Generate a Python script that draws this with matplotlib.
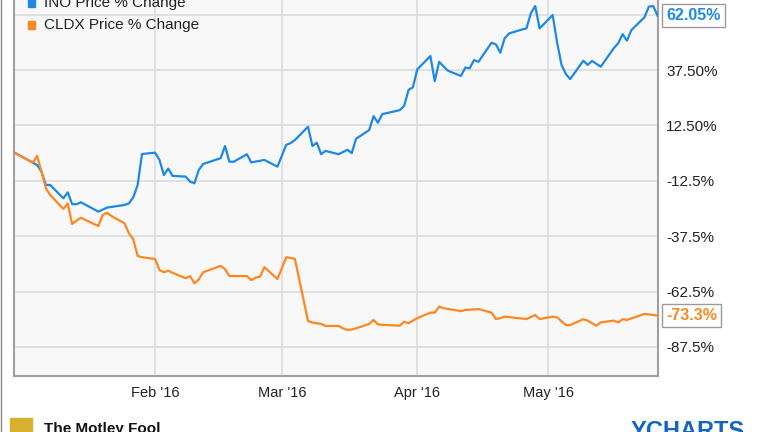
import pandas as pd
import numpy as np
import matplotlib
matplotlib.use("Agg")
import matplotlib.pyplot as plt
import matplotlib.dates as mdates
from matplotlib.lines import Line2D

plt.rcParams['font.family'] = ['Liberation Sans', 'DejaVu Sans']

# INO price % change, vertices
ino_dates = ['2015-12-31', '2016-01-05', '2016-01-06', '2016-01-07', '2016-01-08',
             '2016-01-11', '2016-01-12', '2016-01-13', '2016-01-14', '2016-01-15',
             '2016-01-19', '2016-01-21', '2016-01-25', '2016-01-26', '2016-01-27',
             '2016-01-28', '2016-01-29', '2016-02-01', '2016-02-02', '2016-02-03',
             '2016-02-04', '2016-02-05', '2016-02-08', '2016-02-09', '2016-02-10',
             '2016-02-11', '2016-02-12', '2016-02-16', '2016-02-17', '2016-02-18',
             '2016-02-19', '2016-02-22', '2016-02-23', '2016-02-26', '2016-02-29',
             '2016-03-02', '2016-03-03', '2016-03-04', '2016-03-07', '2016-03-08',
             '2016-03-09', '2016-03-10', '2016-03-11', '2016-03-14', '2016-03-15',
             '2016-03-16', '2016-03-17', '2016-03-18', '2016-03-21', '2016-03-22',
             '2016-03-23', '2016-03-24', '2016-03-28', '2016-03-29', '2016-03-30',
             '2016-03-31', '2016-04-01', '2016-04-04', '2016-04-05', '2016-04-06',
             '2016-04-08', '2016-04-11', '2016-04-12', '2016-04-13', '2016-04-14',
             '2016-04-15', '2016-04-18', '2016-04-19', '2016-04-20', '2016-04-21',
             '2016-04-22', '2016-04-25', '2016-04-26', '2016-04-27', '2016-04-28',
             '2016-04-29', '2016-05-02', '2016-05-03', '2016-05-04', '2016-05-05',
             '2016-05-06', '2016-05-09', '2016-05-10', '2016-05-11', '2016-05-13',
             '2016-05-16', '2016-05-17', '2016-05-18', '2016-05-19', '2016-05-20',
             '2016-05-23', '2016-05-24', '2016-05-25', '2016-05-26']
ino_pct = [0.0, -5.4, -8.4, -14.4, -14.4,
           -20.4, -17.7, -23.0, -23.1, -22.2,
           -26.4, -24.6, -23.4, -22.7, -20.0,
           -14.4, -0.4, 0.2, -3.1, -9.9,
           -7.0, -10.3, -10.6, -12.9, -13.6,
           -7.6, -4.9, -2.3, 3.2, -3.9,
           -3.9, -0.5, -4.2, -3.1, -6.1,
           3.7, 4.5, 5.9, 11.9, 3.2,
           4.7, -0.5, 1.0, -0.5, 0.5,
           1.5, 0.0, 6.5, 10.4, 16.7,
           13.7, 17.6, 19.4, 21.3, 28.5,
           29.7, 37.8, 43.8, 32.5, 41.2,
           37.2, 34.8, 38.6, 38.3, 42.0,
           41.2, 49.8, 49.1, 45.3, 51.8,
           54.0, 55.8, 56.3, 63.1, 66.4,
           56.3, 62.3, 50.0, 39.9, 35.7,
           33.4, 41.7, 39.8, 41.6, 39.0,
           47.4, 49.6, 53.7, 50.7, 55.5,
           61.3, 66.1, 66.4, 62.05]

# CLDX price % change
cldx_dates = ['2015-12-31', '2016-01-04', '2016-01-05', '2016-01-06', '2016-01-07',
              '2016-01-08', '2016-01-11', '2016-01-12', '2016-01-13', '2016-01-14',
              '2016-01-15', '2016-01-19', '2016-01-20', '2016-01-21', '2016-01-22',
              '2016-01-25', '2016-01-26', '2016-01-27', '2016-01-28', '2016-01-29',
              '2016-02-01', '2016-02-02', '2016-02-03', '2016-02-04', '2016-02-05',
              '2016-02-08', '2016-02-09', '2016-02-10', '2016-02-11', '2016-02-12',
              '2016-02-16', '2016-02-17', '2016-02-18', '2016-02-22', '2016-02-23',
              '2016-02-24', '2016-02-25', '2016-02-26', '2016-02-29', '2016-03-01',
              '2016-03-02', '2016-03-03', '2016-03-04', '2016-03-07', '2016-03-08',
              '2016-03-09', '2016-03-10', '2016-03-11', '2016-03-14', '2016-03-15',
              '2016-03-16', '2016-03-17', '2016-03-18', '2016-03-21', '2016-03-22',
              '2016-03-23', '2016-03-24', '2016-03-28', '2016-03-29', '2016-03-30',
              '2016-03-31', '2016-04-01', '2016-04-04', '2016-04-05', '2016-04-06',
              '2016-04-07', '2016-04-11', '2016-04-12', '2016-04-15', '2016-04-18',
              '2016-04-19', '2016-04-20', '2016-04-21', '2016-04-26', '2016-04-28',
              '2016-04-29', '2016-05-02', '2016-05-03', '2016-05-05', '2016-05-06',
              '2016-05-09', '2016-05-10', '2016-05-11', '2016-05-12', '2016-05-13',
              '2016-05-16', '2016-05-17', '2016-05-18', '2016-05-19', '2016-05-23',
              '2016-05-26']
cldx_pct = [0.0, -4.3, -1.3, -8.4, -15.9,
            -18.9, -25.2, -22.7, -32.0, -30.5,
            -29.2, -32.9, -27.9, -26.9, -28.4,
            -31.7, -36.2, -38.9, -46.4, -47.0,
            -47.8, -52.8, -53.8, -53.1, -54.0,
            -56.5, -55.5, -58.8, -57.0, -53.8,
            -50.9, -52.4, -55.5, -55.5, -57.3,
            -56.2, -55.8, -51.5, -56.8, -52.0,
            -47.0, -47.3, -47.8, -75.8, -76.5,
            -76.8, -77.1, -78.0, -78.0, -79.1,
            -79.8, -79.6, -79.1, -77.1, -75.3,
            -77.3, -77.5, -77.9, -76.1, -76.8,
            -75.6, -74.5, -72.0, -72.0, -69.3,
            -70.0, -71.3, -70.8, -70.4, -72.0,
            -74.9, -74.5, -73.8, -74.9, -73.1,
            -74.9, -73.8, -74.1, -77.6, -77.6,
            -75.0, -75.6, -76.8, -77.9, -76.4,
            -75.6, -76.4, -75.0, -75.3, -72.6,
            -73.3]

ytick_vals = [-87.5, -62.5, -37.5, -12.5, 12.5, 37.5, 62.5]
ytick_labels = ['-87.5%', '-62.5%', '-37.5%', '-12.5%', '12.50%', '37.50%', '']
xtick_dates = ['2016-02-01', '2016-03-01', '2016-04-01', '2016-05-01']
xtick_labels = ["Feb '16", "Mar '16", "Apr '16", "May '16"]

blue = '#1e88e5'
orange = '#fd8721'

W, H = 764, 432
fig = plt.figure(figsize=(W / 100, H / 100), dpi=100)
fig.patch.set_facecolor('white')

# axes placed in pixel terms: x 14..658, y 0..376 (from top)
ax = fig.add_axes([14 / W, (H - 376) / H, (658 - 14) / W, 376 / H])
ax.set_facecolor('#f8f8f8')

ino_x = pd.to_datetime(ino_dates)
cldx_x = pd.to_datetime(cldx_dates)
ax.plot(ino_x, ino_pct, color=blue, lw=1.6, zorder=3, solid_joinstyle='round')
ax.plot(cldx_x, cldx_pct, color=orange, lw=1.6, zorder=3, solid_joinstyle='round')

feb1 = pd.Timestamp('2016-02-01')
ax.set_xlim(feb1 - pd.Timedelta(days=32.3), feb1 + pd.Timedelta(days=115.1))
ax.set_ylim(-100.6, 69.1)

ax.set_xticks(pd.to_datetime(xtick_dates))
ax.set_xticklabels(xtick_labels)
ax.set_yticks(ytick_vals)
ax.set_yticklabels(ytick_labels)
ax.yaxis.tick_right()
ax.tick_params(axis='y', length=0, pad=6, labelsize=11, labelcolor='#222222')
ax.tick_params(axis='x', length=0, pad=7, labelsize=10.5, labelcolor='#222222')
ax.grid(True, color='#dcdcdc', lw=1.2)
ax.set_axisbelow(True)

for side in ['left', 'bottom', 'right']:
    ax.spines[side].set_color('#a0a0a0')
    ax.spines[side].set_linewidth(1.5)
ax.spines['top'].set_visible(False)

# legend squares + labels at the top (partly cut off)
def px(x, y):
    return x / W, 1 - y / H

for i, (name, col) in enumerate([('INO Price % Change', blue), ('CLDX Price % Change', orange)]):
    yy = 3 + 22 * i
    fig.patches.append(plt.Rectangle(px(28, yy + 4), 7 / W, 8 / H, color=col,
                                     transform=fig.transFigure, figure=fig))
    fig.text(*px(44, yy), name, fontsize=11, color='#222222', va='center', ha='left')

# end-value labels
ax.annotate('62.05%', xy=(1, ino_pct[-1]), xycoords=('axes fraction', 'data'),
            xytext=(6, 0), textcoords='offset points', va='center', ha='left',
            fontsize=11.5, fontweight='bold', color=blue,
            bbox=dict(boxstyle='square,pad=0.25', fc='white', ec='#9a9a9a', lw=1))
ax.annotate('-73.3%', xy=(1, cldx_pct[-1]), xycoords=('axes fraction', 'data'),
            xytext=(6, 0), textcoords='offset points', va='center', ha='left',
            fontsize=11.5, fontweight='bold', color=orange,
            bbox=dict(boxstyle='square,pad=0.25', fc='white', ec='#9a9a9a', lw=1))

# footer branding, cut off by the bottom edge
fig.text(*px(44, 422), 'The Motley Fool', fontsize=11, fontweight='bold',
         color='#111111', va='top', ha='left')
fig.patches.append(plt.Rectangle(px(10, 432), 22 / W, 14 / H, color='#d8b030',
                                 transform=fig.transFigure, figure=fig))
fig.text(*px(745, 420), 'YCHARTS', fontsize=17, fontweight='bold',
         color='#1565c0', va='top', ha='right')

# thin frame line on the left edge of the image
fig.add_artist(Line2D([0.5 / W, 0.5 / W], [0, 1], color='#888888', lw=1,
                      transform=fig.transFigure))

fig.savefig('out.png', dpi=100)
